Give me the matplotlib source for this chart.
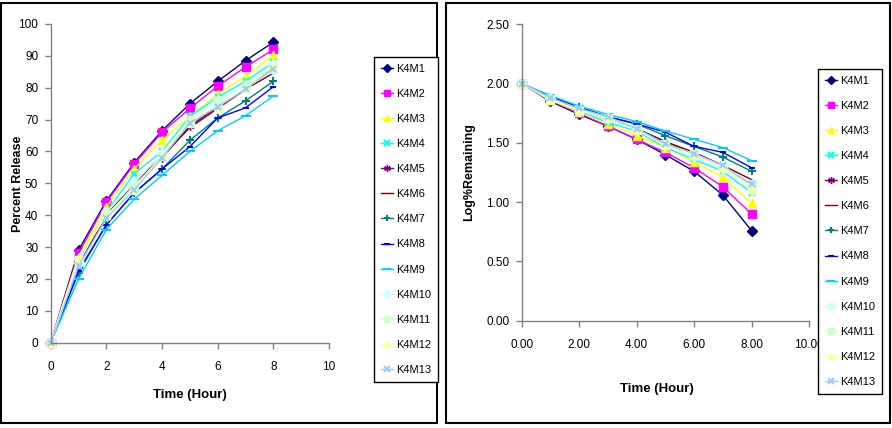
import matplotlib
matplotlib.use("Agg")
import matplotlib.pyplot as plt
from matplotlib.patches import Rectangle

hours = [0, 1, 2, 3, 4, 5, 6, 7, 8]
labels = ["K4M1", "K4M2", "K4M3", "K4M4", "K4M5", "K4M6", "K4M7",
          "K4M8", "K4M9", "K4M10", "K4M11", "K4M12", "K4M13"]

release_K4M1 = [0, 29, 44.5, 56.5, 66.5, 75, 82, 88.5, 94.3]
release_K4M2 = [0, 28, 44, 56, 66, 73.5, 80.5, 86.5, 92]
release_K4M3 = [0, 27, 42.5, 54.5, 63.5, 71, 78, 83.6, 90.2]
release_K4M4 = [0, 26, 41, 53, 60, 71, 77, 82, 88]
release_K4M5 = [0, 24, 40, 50, 58, 68, 74, 80, 86]
release_K4M6 = [0, 25, 40, 50, 58.5, 67.5, 73.5, 79.5, 84.6]
release_K4M7 = [0, 22, 37, 47, 54.5, 63.5, 70.5, 75.9, 82]
release_K4M8 = [0, 22.5, 37, 47, 54.5, 61.5, 70.5, 73.7, 80.3]
release_K4M9 = [0, 20, 35.5, 45, 52.5, 60, 66.5, 71.2, 77.4]
release_K4M10 = [0, 25, 41, 50, 59.5, 70, 76, 81, 87.5]
release_K4M11 = [0, 26, 40, 49, 58.5, 69, 74.5, 80, 86]
release_K4M12 = [0, 27, 40, 48, 59, 70, 74, 80, 87]
release_K4M13 = [0, 24, 39, 48, 58, 69, 74, 79.5, 86]

logrem_K4M1 = [2.00, 1.85, 1.74, 1.64, 1.53, 1.40, 1.26, 1.06, 0.76]
logrem_K4M2 = [2.00, 1.86, 1.75, 1.64, 1.53, 1.42, 1.29, 1.13, 0.90]
logrem_K4M3 = [2.00, 1.86, 1.76, 1.66, 1.56, 1.46, 1.34, 1.21, 0.99]
logrem_K4M4 = [2.00, 1.87, 1.77, 1.67, 1.60, 1.46, 1.36, 1.26, 1.08]
logrem_K4M5 = [2.00, 1.88, 1.78, 1.70, 1.62, 1.51, 1.41, 1.30, 1.15]
logrem_K4M6 = [2.00, 1.88, 1.78, 1.70, 1.62, 1.51, 1.42, 1.31, 1.19]
logrem_K4M7 = [2.00, 1.89, 1.80, 1.72, 1.66, 1.56, 1.47, 1.38, 1.26]
logrem_K4M8 = [2.00, 1.89, 1.80, 1.72, 1.66, 1.59, 1.47, 1.42, 1.29]
logrem_K4M9 = [2.00, 1.90, 1.81, 1.74, 1.68, 1.60, 1.53, 1.46, 1.35]
logrem_K4M10 = [2.00, 1.88, 1.77, 1.70, 1.61, 1.48, 1.38, 1.28, 1.10]
logrem_K4M11 = [2.00, 1.87, 1.78, 1.71, 1.62, 1.49, 1.41, 1.30, 1.15]
logrem_K4M12 = [2.00, 1.86, 1.78, 1.72, 1.61, 1.48, 1.41, 1.30, 1.11]
logrem_K4M13 = [2.00, 1.88, 1.79, 1.72, 1.62, 1.49, 1.41, 1.31, 1.15]

release = [release_K4M1, release_K4M2, release_K4M3, release_K4M4, release_K4M5,
           release_K4M6, release_K4M7, release_K4M8, release_K4M9, release_K4M10,
           release_K4M11, release_K4M12, release_K4M13]
logrem = [logrem_K4M1, logrem_K4M2, logrem_K4M3, logrem_K4M4, logrem_K4M5,
          logrem_K4M6, logrem_K4M7, logrem_K4M8, logrem_K4M9, logrem_K4M10,
          logrem_K4M11, logrem_K4M12, logrem_K4M13]

colors = ["#000080", "#FF00FF", "#FFFF00", "#00FFFF", "#800080", "#800000",
          "#008080", "#0000FF", "#00CCFF", "#CCFFFF", "#CCFFCC", "#FFFF99", "#99CCFF"]
markers = ["D", "s", "^", "x", (6, 2, 0), "None", "+", "_", "_", "D", "s", "^", "x"]
msizes = [5, 6, 6, 5, 6, 0, 6, 5, 7, 5, 6, 6, 5]

plt.rcParams["font.family"] = ["Liberation Sans", "DejaVu Sans"]

fig = plt.figure(figsize=(8.92, 4.28), dpi=100)

# panel borders
for x0, x1 in [(1, 437), (446, 890)]:
    fig.patches.append(Rectangle((x0 / 892, 1 - 423 / 428), (x1 - x0) / 892, 420 / 428,
                                 transform=fig.transFigure, fill=False,
                                 edgecolor="black", linewidth=1.5, zorder=0))

ax1 = fig.add_axes([50.7 / 892, 1 - 342.7 / 428, 278.3 / 892, 318.7 / 428])
ax2 = fig.add_axes([521.7 / 892, 1 - 320.7 / 428, 287.3 / 892, 296.4 / 428])


def style(ax):
    for s in ["top", "right"]:
        ax.spines[s].set_visible(False)
    for s in ["left", "bottom"]:
        ax.spines[s].set_color("#808080")
        ax.spines[s].set_linewidth(1.0)
    ax.tick_params(axis="both", direction="out", length=4, width=1,
                   color="#808080", labelsize=8.5, labelcolor="black")
    ax.tick_params(axis="x", pad=9)
    ax.tick_params(axis="y", pad=5)
    ax.patch.set_alpha(0)


for i, lab in enumerate(labels):
    mew = 1.5 if markers[i] in ["_", "+", "x"] else 1
    ax1.plot(hours, release[i], color=colors[i], marker=markers[i],
             markersize=msizes[i], markeredgewidth=mew,
             linewidth=1.0, label=lab, clip_on=False)
    ax2.plot(hours, logrem[i], color=colors[i], marker=markers[i],
             markersize=msizes[i], markeredgewidth=mew,
             linewidth=1.0, label=lab, clip_on=False)

style(ax1)
ax1.set_xlim(0, 10)
ax1.set_ylim(0, 100)
ax1.set_xticks(range(0, 11, 2))
ax1.set_yticks(range(0, 101, 10))
ax1.set_xlabel("Time (Hour)", fontsize=9.5, fontweight="bold")
ax1.xaxis.set_label_coords(0.5, (342.7 - 389) / 318.7)
ax1.set_ylabel("Percent Release", fontsize=9, fontweight="bold")
ax1.yaxis.set_label_coords((24 - 50.7) / 278.3, 0.5)

style(ax2)
ax2.set_xlim(0, 10)
ax2.set_ylim(0, 2.5)
ax2.set_xticks([0, 2, 4, 6, 8, 10])
ax2.set_xticklabels(["0.00", "2.00", "4.00", "6.00", "8.00", "10.00"])
ax2.set_yticks([0, 0.5, 1.0, 1.5, 2.0, 2.5])
ax2.set_yticklabels(["0.00", "0.50", "1.00", "1.50", "2.00", "2.50"])
ax2.set_xlabel("Time (Hour)", fontsize=9.5, fontweight="bold")
ax2.xaxis.set_label_coords((657 - 521.7) / 287.3, (320.7 - 383) / 296.4)
ax2.set_ylabel("Log%Remaining", fontsize=9, fontweight="bold")
ax2.yaxis.set_label_coords((475 - 521.7) / 287.3, 0.5)


def add_legend(ax, x0, y0):
    handles, labs = ax.get_legend_handles_labels()
    leg = fig.legend(handles, labs, loc="upper left",
                     bbox_to_anchor=(x0 / 892, 1 - y0 / 428),
                     bbox_transform=fig.transFigure, fontsize=8,
                     frameon=True, fancybox=False, edgecolor="black",
                     framealpha=1, facecolor="white", borderaxespad=0,
                     labelspacing=1.36, handlelength=1.15, handletextpad=0.25,
                     borderpad=0.6, markerscale=0.8)
    leg.get_frame().set_linewidth(1.0)
    leg.set_zorder(10)
    return leg


add_legend(ax1, 374, 57)
add_legend(ax2, 818, 69)

fig.savefig("out.png", dpi=100)
